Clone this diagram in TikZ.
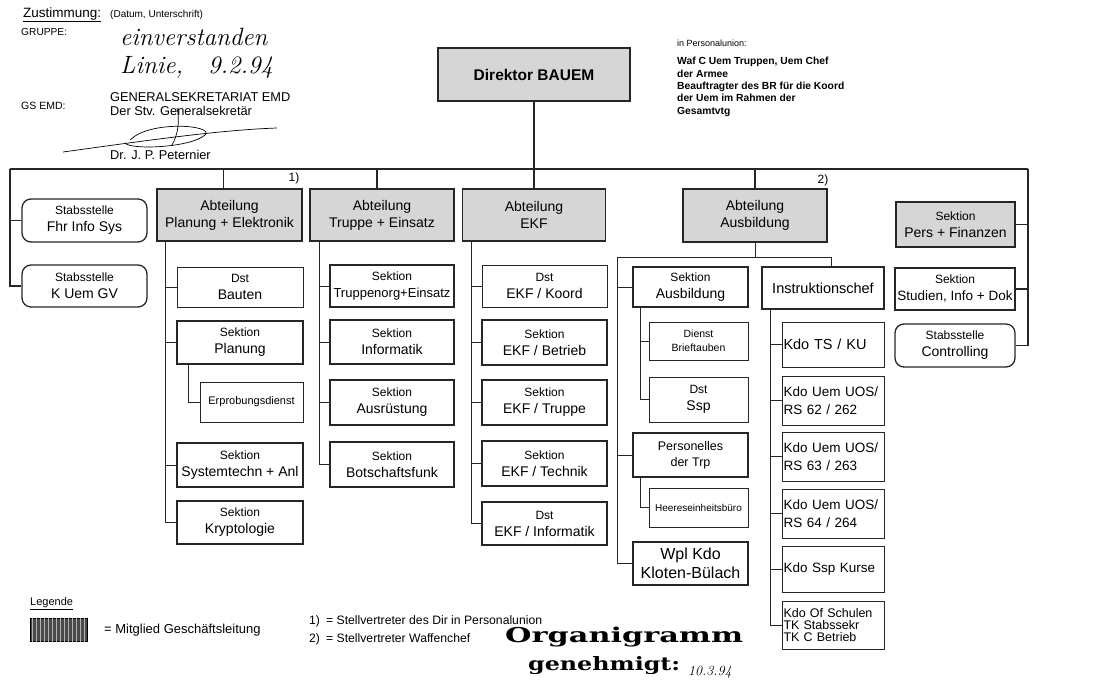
\documentclass[tikz,border=0pt]{standalone}
\usepackage{fontspec}
\usepackage{graphicx}
\setsansfont{Liberation Sans}
\renewcommand{\familydefault}{\sfdefault}
\newfontfamily\stampfont{DejaVu Serif}
\newcommand{\fsz}[2]{\fontsize{#1}{#2}\selectfont}
\newcommand{\kopf}[1]{{\fsz{12}{17}#1}}
\tikzset{
  org/.style={draw=black!85, align=center, inner sep=1pt, font=\fsz{14}{17}},
  glbox/.style={org, fill=glgrau, line width=1.6pt},
  sekbox/.style={org, line width=1.6pt},
  dstbox/.style={org, line width=0.8pt},
  stabbox/.style={org, rounded corners=9pt, line width=1.3pt},
  kdobox/.style={org, line width=0.8pt, align=left, text width=99pt, inner xsep=1.5pt, inner ysep=1pt, font=\fsz{13.5}{18}},
  lnk/.style={draw=black!85, line width=0.8pt},
  bus/.style={draw=black!85, line width=1.5pt},
  note/.style={anchor=west, inner sep=0pt, font=\fsz{9}{11}}
}
\begin{document}
\begin{tikzpicture}[x=1pt,y=-1pt]
\definecolor{glgrau}{HTML}{D6D6D6}
\definecolor{legdunkel}{HTML}{4A4A4A}
\useasboundingbox[fill=white] (0,0) rectangle (1113,682);

\node[note, font=\fsz{13.5}{14}] (zust) at (23,15) {\underline{Zustimmung:}};
\node[note, font=\fsz{10}{11}] (datum) at (110,15) {(Datum, Unterschrift)};
\node[note, font=\fsz{10.2}{11}] (gruppe) at (21,32) {GRUPPE:};
\node[note, font=\rmfamily\itshape\fsz{25}{26}] (hand1) at (120,37) {einverstanden};
\node[note, font=\rmfamily\itshape\fsz{25}{26}] (hand2) at (120,67) {Linie,\quad 9.2.94};
\node[note, font=\fsz{12.8}{13}] (gsek) at (110,97) {GENERALSEKRETARIAT EMD};
\node[note, font=\fsz{10.5}{11}] (gsemd) at (21,106) {GS EMD:};
\node[note, font=\fsz{12.8}{13}] (stv) at (110,111) {Der Stv. Generalsekretär};
\node[note, font=\fsz{12.8}{13}] (dr) at (110,155) {Dr. J. P. Peternier};
\draw[line width=0.7pt] (63,152) .. controls (150,140) and (220,130) .. (277,128);
\draw[line width=0.7pt] (130,140) .. controls (150,120) and (215,125) .. (205,135) .. controls (190,148) and (130,150) .. (125,143);
\draw[line width=0.7pt] (177,108) .. controls (180,120) and (178,135) .. (172,145);

\node[note, font=\fsz{9}{10}] (pu) at (677,43) {in Personalunion:};
\node[note, anchor=north west, align=left, font=\bfseries\fsz{10.3}{12.4}] (pu2) at (677,57) {Waf C Uem Truppen, Uem Chef\\der Armee\\Beauftragter des BR für die Koord\\der Uem im Rahmen der\\Gesamtvtg};

\node[glbox, minimum width=192pt, minimum height=53pt, font=\bfseries\fsz{15.5}{17}] (dir) at (534,74.5) {Direktor BAUEM};

\coordinate (busL) at (10,169);
\coordinate (busR) at (1028,169);
\draw[bus] (busL) -- (busR);

\node[glbox, minimum width=145pt, minimum height=52pt] (ape) at (229.5,215) {Abteilung\\Planung + Elektronik};
\node[glbox, minimum width=144pt, minimum height=52pt] (ate) at (382,215) {Abteilung\\Truppe + Einsatz};
\node[glbox, minimum width=143pt, minimum height=52pt] (aekf) at (534,215) {Abteilung\\EKF};
\node[glbox, minimum width=144pt, minimum height=53pt] (aaus) at (755,215.5) {Abteilung\\Ausbildung};
\node[glbox, minimum width=119pt, minimum height=45pt] (spf) at (955.5,224.5) {\kopf{Sektion}\\Pers + Finanzen};
\node[font=\fsz{12}{13}, inner sep=0pt] (fn1) at (294,178) {1)};
\node[font=\fsz{12}{13}, inner sep=0pt] (fn2) at (823,180) {2)};

\node[stabbox, minimum width=125pt, minimum height=43pt] (sfis) at (84.5,220.5) {\kopf{Stabsstelle}\\Fhr Info Sys};
\node[stabbox, minimum width=125pt, minimum height=42pt] (skug) at (84.5,286) {\kopf{Stabsstelle}\\K Uem GV};
\node[sekbox, minimum width=120pt, minimum height=42pt] (ssid) at (955,289) {\kopf{Sektion}\\{\fsz{13.5}{17}Studien, Info + Dok}};
\node[stabbox, minimum width=120pt, minimum height=43pt] (sctr) at (955,345.5) {\kopf{Stabsstelle}\\Controlling};

\draw[bus] (dir.south) -- (aekf.north);
\draw[bus] ([xshift=-6pt]ape.north) -- ([xshift=-6pt]ape.north |- busL);
\draw[bus] ([xshift=-5pt]ate.north) -- ([xshift=-5pt]ate.north |- busL);
\draw[bus] (aaus.north) -- (aaus.north |- busL);
\draw[bus] (busL) |- (skug.west);
\draw[bus] (sfis.west -| busL) -- (sfis.west);
\draw[bus] (busR) |- (sctr.east);
\draw[bus] (spf.east -| busR) -- (spf.east);
\draw[bus] (ssid.east -| busR) -- (ssid.east);

\node[dstbox, minimum width=126pt, minimum height=40pt] (bauten) at (240,287) {\kopf{Dst}\\Bauten};
\node[sekbox, minimum width=126pt, minimum height=43pt] (plan) at (240,342.5) {\kopf{Sektion}\\Planung};
\node[dstbox, minimum width=103pt, minimum height=40pt, font=\fsz{11}{13}] (erpr) at (251.5,402) {Erprobungsdienst};
\node[sekbox, minimum width=126pt, minimum height=44pt] (sysan) at (240,465) {\kopf{Sektion}\\Systemtechn + Anl};
\node[sekbox, minimum width=126pt, minimum height=43pt] (kryp) at (240,522.5) {\kopf{Sektion}\\Kryptologie};
\draw[lnk] ([xshift=9pt]ape.south west) coordinate (peS) |- (kryp.west);
\foreach \n in {bauten,plan,sysan} \draw[lnk] (\n.west -| peS) -- (\n.west);
\draw[lnk] ([xshift=12pt]plan.south west) |- (erpr.west);

\node[sekbox, minimum width=124pt, minimum height=42pt] (tre) at (392,286) {\kopf{Sektion}\\{\fsz{13}{17}Truppenorg+Einsatz}};
\node[sekbox, minimum width=124pt, minimum height=44pt] (info) at (392,342) {\kopf{Sektion}\\Informatik};
\node[sekbox, minimum width=124pt, minimum height=45pt] (ausr) at (392,402.5) {\kopf{Sektion}\\Ausrüstung};
\node[sekbox, minimum width=124pt, minimum height=45pt] (bfunk) at (392,464.5) {\kopf{Sektion}\\Botschaftsfunk};
\draw[lnk] ([xshift=10pt]ate.south west) coordinate (teS) |- (bfunk.west);
\foreach \n in {tre,info,ausr} \draw[lnk] (\n.west -| teS) -- (\n.west);

\node[dstbox, minimum width=125pt, minimum height=42pt] (ekoord) at (544.5,286) {\kopf{Dst}\\EKF / Koord};
\node[sekbox, minimum width=125pt, minimum height=45pt] (ebetr) at (544.5,342.5) {\kopf{Sektion}\\EKF / Betrieb};
\node[sekbox, minimum width=125pt, minimum height=45pt] (etrup) at (544.5,402.5) {\kopf{Sektion}\\EKF / Truppe};
\node[sekbox, minimum width=125pt, minimum height=45pt] (etech) at (544.5,463.5) {\kopf{Sektion}\\EKF / Technik};
\node[sekbox, minimum width=125pt, minimum height=43pt] (einfo) at (544.5,523.5) {\kopf{Dst}\\EKF / Informatik};
\draw[lnk] ([xshift=10pt]aekf.south west) coordinate (ekS) |- (einfo.west);
\foreach \n in {ekoord,ebetr,etrup,etech} \draw[lnk] (\n.west -| ekS) -- (\n.west);

\coordinate (ausL) at (617,257);
\coordinate (ausR) at (831,257);
\node[sekbox, minimum width=115pt, minimum height=40pt] (saus) at (690.5,287) {\kopf{Sektion}\\Ausbildung};
\node[dstbox, minimum width=99pt, minimum height=38pt, font=\fsz{10.5}{14}] (dbrief) at (698.5,341) {Dienst\\Brieftauben};
\node[dstbox, minimum width=99pt, minimum height=45pt] (dssp) at (698.5,399.5) {\kopf{Dst}\\Ssp};
\node[sekbox, minimum width=115pt, minimum height=44pt, font=\fsz{12.5}{16}] (pers) at (690.5,455) {Personelles\\der Trp};
\node[dstbox, minimum width=99pt, minimum height=39pt, font=\fsz{10}{12}] (heer) at (698.5,507.5) {Heereseinheitsbüro};
\node[sekbox, line width=1.9pt, minimum width=115pt, minimum height=43pt, font=\fsz{16}{19}] (wpl) at (690.5,563.5) {Wpl Kdo\\Kloten-Bülach};
\node[sekbox, minimum width=122pt, minimum height=42pt, font=\fsz{14.5}{17}] (insc) at (823,288) {Instruktionschef};
\draw[lnk] (aaus.south) -- (aaus.south |- ausL);
\draw[lnk] (wpl.west) -| (ausL) -- (ausR) -- (ausR |- insc.north);
\foreach \n in {saus,pers} \draw[lnk] (\n.west -| ausL) -- (\n.west);
\draw[lnk] ([xshift=8pt]saus.south west) coordinate (sausS) |- (dssp.west);
\draw[lnk] (dbrief.west -| sausS) -- (dbrief.west);
\draw[lnk] ([xshift=8pt]pers.south west) |- (heer.west);

\node[kdobox, minimum height=45pt, font=\fsz{14.5}{18}] (kts) at (833,344.5) {Kdo TS / KU};
\node[kdobox, minimum height=49pt] (k62) at (833,400.5) {Kdo Uem UOS/\\RS 62 / 262};
\node[kdobox, minimum height=49pt] (k63) at (833,456.5) {Kdo Uem UOS/\\RS 63 / 263};
\node[kdobox, minimum height=49pt] (k64) at (833,513.5) {Kdo Uem UOS/\\RS 64 / 264};
\node[kdobox, minimum height=46pt] (kssp) at (833,569) {Kdo Ssp Kurse};
\node[kdobox, minimum height=48pt, font=\fsz{12.5}{12}] (kofs) at (833,625) {Kdo Of Schulen\\TK Stabssekr\\TK C Betrieb};
\draw[lnk] ([xshift=9pt]insc.south west) coordinate (inS) |- (kofs.west);
\foreach \n in {kts,k62,k63,k64,kssp} \draw[lnk] (\n.west -| inS) -- (\n.west);

\node[note, font=\fsz{11}{12}] (leg) at (30,604) {\underline{Legende}};
\node[draw=black, fill=legdunkel, minimum width=57pt, minimum height=23pt, inner sep=0pt] (legbox) at (59,630) {};
\foreach \i in {2,6,...,54} \draw[gray!60, line width=0.7pt] ([xshift=\i pt]legbox.north west) -- ([xshift=\i pt]legbox.south west);
\node[note, font=\fsz{13}{14}] (legtxt) at (104,630) {= Mitglied Geschäftsleitung};
\node[note, font=\fsz{12.2}{13}] (fnt1) at (309,621) {1)\enspace = Stellvertreter des Dir in Personalunion};
\node[note, font=\fsz{12.2}{13}] (fnt2) at (309,639) {2)\enspace = Stellvertreter Waffenchef};

\node[anchor=west, inner sep=0pt] (orga) at (505,637) {\resizebox{238pt}{15.5pt}{\stampfont\bfseries Organigramm}};
\node[anchor=west, inner sep=0pt] (genehm) at (528,666) {\resizebox{152pt}{14pt}{\stampfont\bfseries genehmigt:}};
\node[note, font=\rmfamily\itshape\fsz{14}{15}] (datum2) at (688,672) {10.3.94};
\end{tikzpicture}
\end{document}
